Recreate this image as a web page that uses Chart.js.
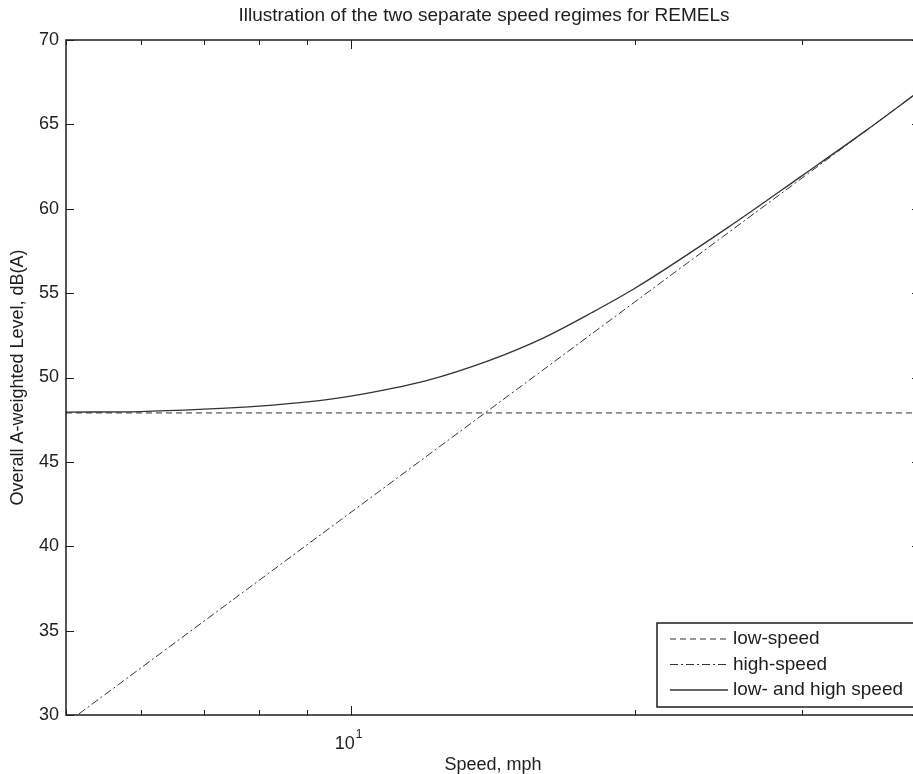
<!DOCTYPE html>
<html>
<head>
<meta charset="utf-8">
<title>REMEL speed regimes</title>
<script src="https://cdn.jsdelivr.net/npm/chart.js@4.4.1/dist/chart.umd.min.js"></script>
<style>
    html, body { margin: 0; padding: 0; background: #fff; overflow: hidden; }
    #wrap { width: 913px; height: 774px; overflow: hidden; }
    canvas { display: block; }
</style>
</head>
<body>
<div id="wrap"><canvas id="remelChart" width="932" height="774"></canvas></div>
<script>
// Данные (скорость в mph, уровень в dB(A))
const lowSpeedX = [5, 40];
const lowSpeedY = [47.9, 47.9];
const highSpeedX = [5, 40];
const highSpeedY = [29.5, 67.0];
const combinedX = [5, 6, 7, 8, 9, 10, 12, 14, 16, 18, 20, 25, 30, 35, 40];
const combinedY = [47.95, 47.98, 48.12, 48.3, 48.55, 48.9, 49.8, 51.0, 52.35, 53.85, 55.3, 58.85, 61.95, 64.6, 67.0];

const xTickValues = [5, 6, 7, 8, 9, 10, 20, 30, 40];
const xMajorTicks = [10];
const yTickValues = [30, 35, 40, 45, 50, 55, 60, 65, 70];

const seriesLabels = ['low-speed', 'high-speed', 'low- and high speed'];

const ink = '#1e1e1e';
const lineInk = '#333333';
const FONT = 'Arial, "Liberation Sans", Helvetica, sans-serif';

function toPoints(xs, ys) {
    return xs.map((x, i) => ({ x: x, y: ys[i] }));
}

// Рамка, внутренние засечки, подписи и легенда в стиле MATLAB
const matlabAxes = {
    id: 'matlabAxes',
    afterDraw(chart) {
        const ctx = chart.ctx;
        const a = chart.chartArea;
        const xs = chart.scales.x;
        const ys = chart.scales.y;
        ctx.save();

        // засечки внутрь
        ctx.strokeStyle = ink;
        ctx.lineWidth = 1;
        ctx.beginPath();
        xTickValues.forEach(v => {
            const px = Math.round(xs.getPixelForValue(v)) + 0.5;
            const len = xMajorTicks.includes(v) ? 9 : 5;
            ctx.moveTo(px, a.bottom); ctx.lineTo(px, a.bottom - len);
            ctx.moveTo(px, a.top); ctx.lineTo(px, a.top + len);
        });
        yTickValues.forEach(v => {
            const py = Math.round(ys.getPixelForValue(v)) + 0.5;
            ctx.moveTo(a.left, py); ctx.lineTo(a.left + 8, py);
            ctx.moveTo(a.right, py); ctx.lineTo(a.right - 8, py);
        });
        ctx.stroke();

        // рамка
        ctx.lineWidth = 1.5;
        ctx.strokeRect(a.left, a.top, a.right - a.left, a.bottom - a.top);

        ctx.fillStyle = ink;

        // подпись 10^1
        const p10 = xs.getPixelForValue(10);
        ctx.font = '18px ' + FONT;
        ctx.textAlign = 'right';
        ctx.textBaseline = 'middle';
        ctx.fillText('10', p10 + 4, a.bottom + 29);
        ctx.font = '12px ' + FONT;
        ctx.textAlign = 'left';
        ctx.fillText('1', p10 + 5, a.bottom + 20);

        // подписи осей
        ctx.font = '18px ' + FONT;
        ctx.textAlign = 'center';
        ctx.fillText('Speed, mph', (a.left + 920) / 2, a.bottom + 50);

        ctx.save();
        ctx.translate(18, (a.top + a.bottom) / 2);
        ctx.rotate(-Math.PI / 2);
        ctx.fillText('Overall A-weighted Level, dB(A)', 0, 0);
        ctx.restore();

        // заголовок
        ctx.font = '19px ' + FONT;
        ctx.fillText('Illustration of the two separate speed regimes for REMELs', 484, 16);

        // легенда
        const bx = 657, by = 623, bw = 280, bh = 84;
        ctx.fillStyle = '#fff';
        ctx.fillRect(bx, by, bw, bh);
        ctx.lineWidth = 1.5;
        ctx.strokeStyle = ink;
        ctx.strokeRect(bx, by, bw, bh);
        ctx.font = '19px ' + FONT;
        ctx.textAlign = 'left';
        ctx.fillStyle = ink;
        chart.data.datasets.forEach((ds, i) => {
            const ry = by + 16 + i * 25.5;
            ctx.beginPath();
            ctx.setLineDash(ds.borderDash || []);
            ctx.strokeStyle = ds.borderColor;
            ctx.lineWidth = ds.borderWidth;
            ctx.moveTo(670, ry);
            ctx.lineTo(728, ry);
            ctx.stroke();
            ctx.setLineDash([]);
            ctx.fillText(ds.label, 733, ry);
        });

        ctx.restore();
    }
};

new Chart(document.getElementById('remelChart'), {
    type: 'line',
    data: {
        datasets: [
            {
                label: seriesLabels[0],
                data: toPoints(lowSpeedX, lowSpeedY),
                borderColor: lineInk,
                borderWidth: 1,
                borderDash: [6, 4],
                pointRadius: 0
            },
            {
                label: seriesLabels[1],
                data: toPoints(highSpeedX, highSpeedY),
                borderColor: lineInk,
                borderWidth: 1,
                borderDash: [8, 3, 2, 3],
                pointRadius: 0
            },
            {
                label: seriesLabels[2],
                data: toPoints(combinedX, combinedY),
                borderColor: lineInk,
                borderWidth: 1.3,
                cubicInterpolationMode: 'monotone',
                pointRadius: 0
            }
        ]
    },
    options: {
        responsive: false,
        animation: false,
        devicePixelRatio: 1,
        layout: { padding: { top: 40, right: 12, left: 0, bottom: 0 } },
        plugins: {
            legend: { display: false },
            tooltip: { enabled: false },
            title: { display: false }
        },
        scales: {
            x: {
                type: 'logarithmic',
                min: 5,
                max: 40,
                grid: { display: false, drawTicks: false },
                border: { display: false },
                ticks: { display: false },
                afterBuildTicks: scale => {
                    scale.ticks = xTickValues.map(v => ({ value: v }));
                },
                afterFit: scale => { scale.height = 59; }
            },
            y: {
                min: 30,
                max: 70,
                grid: { display: false, drawTicks: false },
                border: { display: false },
                ticks: {
                    stepSize: 5,
                    padding: 7,
                    color: ink,
                    font: { family: FONT, size: 18 }
                },
                afterFit: scale => { scale.width = 66; }
            }
        }
    },
    plugins: [matlabAxes]
});
</script>
</body>
</html>
